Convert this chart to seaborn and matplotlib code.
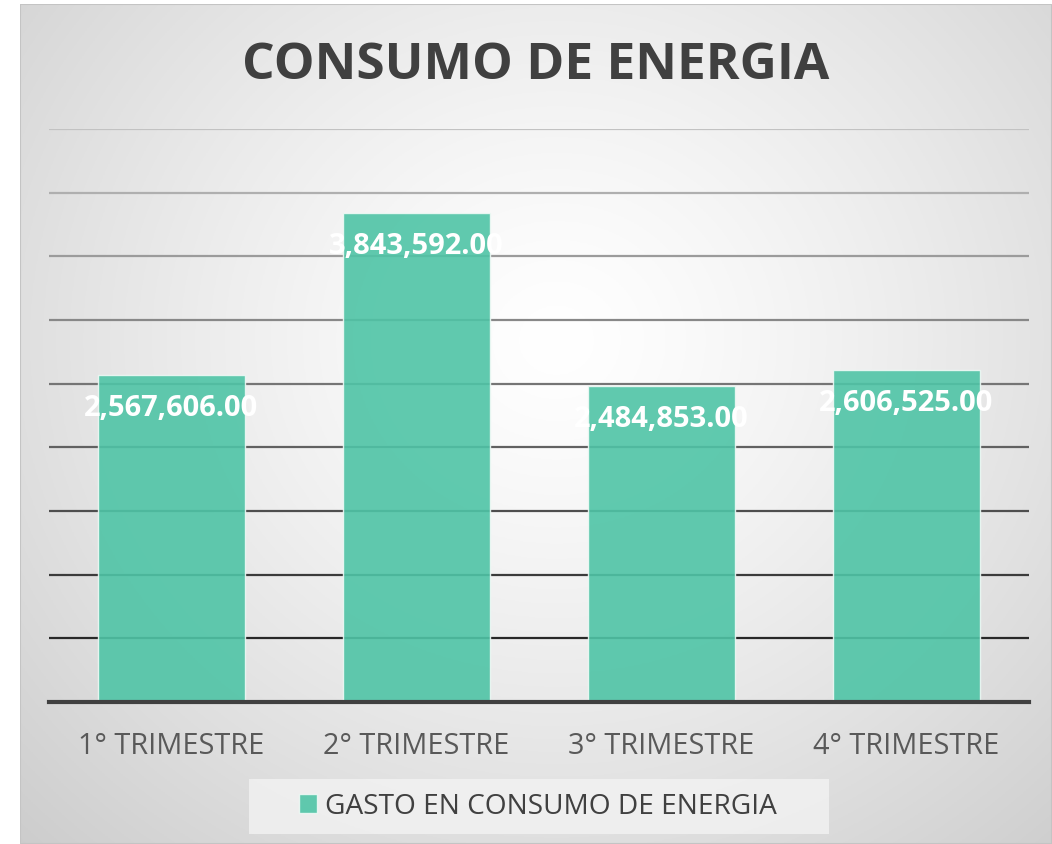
import numpy as np
import pandas as pd
import matplotlib
matplotlib.use("Agg")
import matplotlib.pyplot as plt
import seaborn as sns

categories = ["1° TRIMESTRE", "2° TRIMESTRE", "3° TRIMESTRE", "4° TRIMESTRE"]
values = [2567606.00, 3843592.00, 2484853.00, 2606525.00]
series_name = "GASTO EN CONSUMO DE ENERGIA"
title = "CONSUMO DE ENERGIA"

df = pd.DataFrame({"trimestre": categories, "gasto": values})

sns.set_theme(style="white")
plt.rcParams["font.family"] = ["Open Sans", "DejaVu Sans"]

W, H = 1052, 845
fig = plt.figure(figsize=(W / 100, H / 100), dpi=100, facecolor="white")

# background radial gradient panel
bg = fig.add_axes([20 / W, 0, (W - 20) / W, (H - 5) / H], zorder=0)
nx, ny = 400, 320
xx, yy = np.meshgrid(np.linspace(0, 1, nx), np.linspace(0, 1, ny))
cx, cy = 0.52, 0.6
r = np.sqrt(((xx - cx) / 0.75) ** 2 + ((yy - cy) / 0.85) ** 2)
r = np.clip(r, 0, 1)
shade = 1.0 - 0.2 * r ** 1.3
img = np.dstack([shade, shade, shade])
bg.imshow(img, origin="lower", extent=[0, 1, 0, 1], aspect="auto")
bg.set_axis_off()
bg.add_patch(plt.Rectangle((0, 0), 1, 1, transform=bg.transAxes, fill=False,
                           edgecolor="#c4c4c4", linewidth=1.5))
# legend panel
bg.add_patch(plt.Rectangle(((249 - 20) / (W - 20), (845 - 835) / (H - 5)),
                           580 / (W - 20), 55 / (H - 5), transform=bg.transAxes,
                           facecolor="#f4f4f4", alpha=0.75, edgecolor="none"))

ax = fig.add_axes([49 / W, (H - 703) / H, 980 / W, (703 - 130) / H], zorder=1)
ax.patch.set_alpha(0)

sns.barplot(data=df, x="trimestre", y="gasto", ax=ax, color="#4fc4a6",
            width=0.6, alpha=0.9, saturation=1, edgecolor="#eef9f5", linewidth=1.0,
            zorder=3, label=series_name)

ax.set_ylim(0, 4500000)
ax.set_yticks(np.arange(0, 4500001, 500000))
ax.set_xlim(-0.5, 3.5)
ax.yaxis.grid(True, linewidth=1.6, zorder=1)
ax.set_axisbelow(True)
ax.tick_params(axis="y", left=False, labelleft=False)
ax.tick_params(axis="x", bottom=False, labelsize=20.8, labelcolor="#595959", pad=15)
ax.set_xlabel("")
ax.set_ylabel("")
for name, s in ax.spines.items():
    s.set_visible(name == "bottom")
ax.spines["bottom"].set_color("#404040")
ax.spines["bottom"].set_linewidth(3)
ax.spines["bottom"].set_zorder(4)

gl = ax.yaxis.get_gridlines()
n = len(gl)
for i, line in enumerate(gl):
    t = i / max(n - 1, 1)
    v = 0.08 + (0.76 - 0.08) * t
    line.set_color((v, v, v))

for i, v in enumerate(values):
    ax.text(i, v - 255000, f"{v:,.2f}", ha="center", va="center", color="white",
            fontsize=21, fontweight="bold", zorder=5)

fig.text(536 / W, 1 - 66 / H, title, ha="center", va="center", fontsize=37,
         fontweight="bold", color="#404040")

leg = ax.legend(loc="center", bbox_to_anchor=(538 / W, 1 - 807 / H),
                bbox_transform=fig.transFigure, frameon=False,
                fontsize=20.2, handlelength=0.65, handleheight=0.65, handletextpad=0.3)
for t in leg.get_texts():
    t.set_color("#404040")

fig.savefig("out.png", dpi=100, facecolor="white")
